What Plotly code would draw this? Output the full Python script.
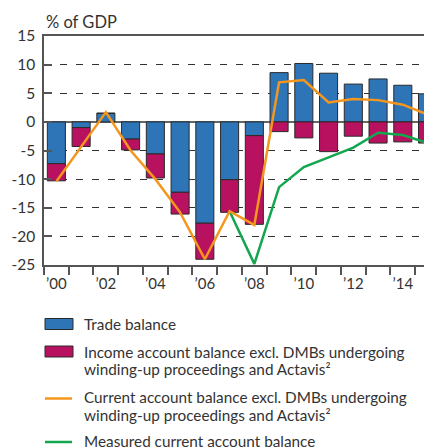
"""Current account balance chart, Plotly version."""

import plotly.graph_objects as go

years = list(range(2000, 2016))
trade_balance = [-7.3, -1.0, 1.5, -3.0, -5.6, -12.3, -17.7, -10.1, -2.4,
                 8.6, 10.2, 8.5, 6.6, 7.5, 6.4, 4.9]
income_balance = [-3.0, -3.3, 0.0, -1.9, -4.2, -3.8, -6.3, -5.7, -15.5,
                  -1.7, -2.8, -5.2, -2.5, -3.7, -3.5, -3.7]
current_excl = [-10.4, -4.4, 1.7, -5.0, -10.0, -15.8, -24.0, -15.6, -18.0,
                6.9, 7.3, 3.4, 4.0, 3.8, 3.0, 1.3]
measured_current = [None, None, None, None, None, None, None, -15.6, -24.8,
                    -11.4, -7.9, -6.2, -4.5, -1.9, -2.3, -3.7]

tick_years = [2000, 2002, 2004, 2006, 2008, 2010, 2012, 2014]
tick_labels = ["\u201900", "\u201902", "\u201904", "\u201906",
               "\u201908", "\u201910", "\u201912", "\u201914"]
y_ticks = [15, 10, 5, 0, -5, -10, -15, -20, -25]

legend_labels = [
    ["Trade balance"],
    ["Income account balance excl. DMBs undergoing",
     "winding-up proceedings and Actavis\u00b2"],
    ["Current account balance excl. DMBs undergoing",
     "winding-up proceedings and Actavis\u00b2"],
    ["Measured current account balance"],
]

FONT = "Lato"
TEXT = "#333333"
AXIS = "#555555"
BLUE = "#2e75b8"
MAGENTA = "#b8115f"
ORANGE = "#f5961e"
GREEN = "#14a64f"
OUTLINE = "#2a2a2a"

# the page body has an 8px margin, so the figure is drawn 8px in from the
# window corner; size everything for the 432x448 window minus that offset
BODY = 8
W, H = 432 - BODY, 448 - BODY
M_L, M_R, M_T, M_B = 36, 0, 28, 183
PW, PH = W - M_L - M_R, H - M_T - M_B


def px_x(x):
    """window pixel x -> paper x"""
    return (x - BODY - M_L) / PW


def px_y(y):
    """window pixel y -> paper y"""
    return (H - M_B - (y - BODY)) / PH


fig = go.Figure()
fig.add_trace(go.Bar(
    x=years, y=trade_balance, name=legend_labels[0][0],
    marker=dict(color=BLUE, line=dict(color=OUTLINE, width=1)),
    width=0.73
))
fig.add_trace(go.Bar(
    x=years, y=income_balance, name=" ".join(legend_labels[1]),
    marker=dict(color=MAGENTA, line=dict(color=OUTLINE, width=1)),
    width=0.73
))
fig.add_trace(go.Scatter(
    x=years, y=measured_current, mode="lines", name=legend_labels[3][0],
    line=dict(color=GREEN, width=2.5)
))
fig.add_trace(go.Scatter(
    x=years, y=current_excl, mode="lines", name=" ".join(legend_labels[2]),
    line=dict(color=ORANGE, width=2.5)
))

# legend drawn by hand so the keys and line spacing match the original
shapes = []
annotations = []
key_kinds = [("rect", BLUE), ("rect", MAGENTA), ("line", ORANGE), ("line", GREEN)]
first_line_y = [324, 351.5, 397, 440.5]
line_gap = 17.6
for (kind, color), y0, lines in zip(key_kinds, first_line_y, legend_labels):
    if kind == "rect":
        shapes.append(dict(
            type="rect", xref="paper", yref="paper",
            x0=px_x(45), x1=px_x(73), y0=px_y(y0 - 5.5), y1=px_y(y0 + 5.5),
            fillcolor=color, line=dict(color=OUTLINE, width=1)
        ))
    else:
        shapes.append(dict(
            type="line", xref="paper", yref="paper",
            x0=px_x(45), x1=px_x(72), y0=px_y(y0 + 1.5), y1=px_y(y0 + 1.5),
            line=dict(color=color, width=2.5)
        ))
    for i, line in enumerate(lines):
        annotations.append(dict(
            text=line, xref="paper", yref="paper",
            x=px_x(82), y=px_y(y0 + i * line_gap),
            xanchor="left", yanchor="middle", showarrow=False,
            font=dict(family=FONT, size=15.3, color=TEXT)
        ))

annotations.append(dict(
    text="% of GDP", xref="paper", yref="paper", x=px_x(44), y=px_y(22),
    xanchor="left", yanchor="middle", showarrow=False,
    font=dict(family=FONT, size=16.5, color=TEXT)
))

fig.update_layout(
    barmode="relative",
    width=W, height=H,
    margin=dict(l=M_L, r=M_R, t=M_T, b=M_B, autoexpand=False),
    paper_bgcolor="white", plot_bgcolor="white",
    font=dict(family=FONT, size=14, color=TEXT),
    showlegend=False,
    shapes=shapes,
    annotations=annotations,
)

fig.update_xaxes(
    range=[1999.5, 2015.18],
    tickvals=tick_years, ticktext=tick_labels, ticks="",
    ticklabelstandoff=4,
    tickfont=dict(family=FONT, size=15, color=TEXT),
    showgrid=False, zeroline=False,
    showline=True, linecolor=AXIS, linewidth=1.5, mirror=True,
    minor=dict(tickvals=[y - 0.5 for y in years] + [2015.5],
               ticks="outside", ticklen=8, tickcolor=AXIS, tickwidth=1.5,
               showgrid=False),
)
fig.update_yaxes(
    range=[-25, 15],
    tickvals=y_ticks, ticktext=[str(v) for v in y_ticks],
    ticks="inside", ticklen=8, tickcolor=AXIS, tickwidth=1.5,
    ticklabelstandoff=4,
    tickfont=dict(family=FONT, size=15.5, color=TEXT),
    showgrid=True, gridcolor="#333333", gridwidth=1, griddash="7px,9px",
    zeroline=True, zerolinecolor="#666666", zerolinewidth=1.5,
    showline=True, linecolor=AXIS, linewidth=1.5,
)

fig.write_html("out.html")
